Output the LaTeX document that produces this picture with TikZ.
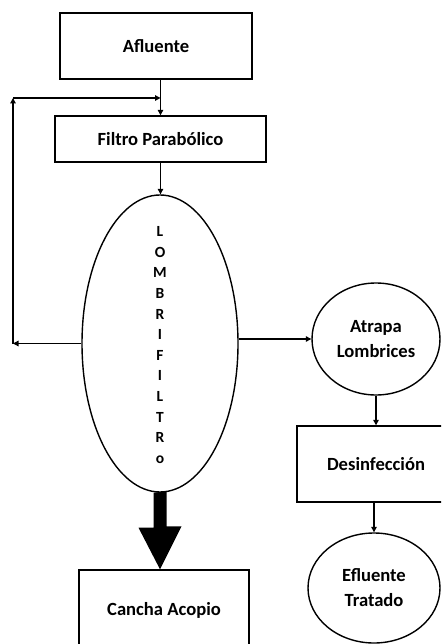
\documentclass[tikz,border=0pt]{standalone}
\usepackage{fontspec}
\setmainfont{Carlito}
\usetikzlibrary{shapes.geometric,arrows.meta,calc}
\begin{document}
\begin{tikzpicture}[x=1pt,y=-1pt,
  txt/.style={font=\bfseries\fontsize{18.6}{25}\selectfont,align=center},
  box/.style={txt,draw,line width=1.4pt,rectangle,inner sep=0pt},
  oval/.style={txt,draw,line width=1.4pt,ellipse,inner sep=0pt},
  conn/.style={line width=1.2pt,-{Triangle[length=5.5pt,width=5.5pt]}}]
\clip (0,0) rectangle (441,644);
\fill[white] (0,0) rectangle (441,644);
\node[box,minimum width=192pt,minimum height=66pt] (afl) at (156,46) {Afluente};
\node[box,minimum width=211pt,minimum height=46pt] (fil) at (160.5,139) {Filtro Parabólico};
\node[oval,minimum width=156pt,minimum height=297pt] (lomb) at (160,343.5) {};
\node[font=\bfseries\fontsize{15.5}{20.6}\selectfont,align=center,inner sep=0pt] (lombtxt) at (160,345) {L\\O\\M\\B\\R\\I\\F\\I\\L\\T\\R\\o};
\node[oval,minimum width=128pt,minimum height=112pt] (atr) at (376,339) {Atrapa\\Lombrices};
\node[box,minimum width=158pt,minimum height=76pt] (des) at (376,464) {Desinfección};
\node[oval,minimum width=132pt,minimum height=110pt] (efl) at (374,588) {Efluente\\Tratado};
\node[box,minimum width=170pt,minimum height=80pt] (can) at (164,610) {Cancha Acopio};
\coordinate (fbl) at (13,343.5);
\coordinate (fbt) at (13,98);
\draw[conn] (afl.south -| fil.north) -- (fil.north);
\draw[conn] (fil.south) -- (fil.south |- lomb.north);
\draw[conn] (lomb.west) -- (fbl);
\draw[conn] (fbl) -- (fbt);
\draw[conn] (fbt) -- (fbt -| fil.north);
\draw[conn] (lomb.east |- atr.west) -- (atr.west);
\draw[conn] (atr.south) -- (des.north);
\draw[conn] (des.south -| efl.north) -- (efl.north);
\fill (lomb.south) ++(-6.5,0) -- ++(0,35) -- ++(-15,0) -- (lomb.south |- can.north) -- ++(21.5,-43) -- ++(-15,0) -- ++(0,-35) -- cycle;
\end{tikzpicture}
\end{document}
